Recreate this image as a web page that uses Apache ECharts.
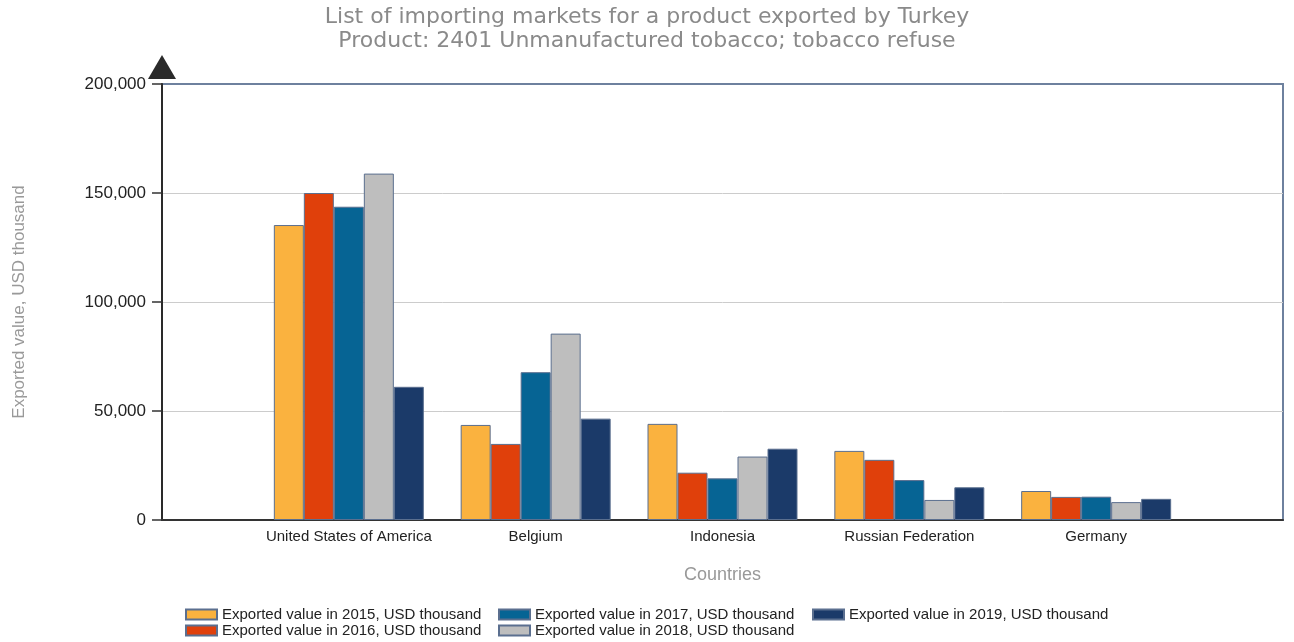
<!DOCTYPE html>
<html>
<head>
<meta charset="utf-8">
<script src="https://cdn.jsdelivr.net/npm/echarts@6/dist/echarts.min.js"></script>
<style>
html,body{margin:0;padding:0;background:#fff;}
#chart{width:1294px;height:642px;}
</style>
</head>
<body>
<div id="chart"></div>
<script>
// ---- data ----
const countries = ['United States of America', 'Belgium', 'Indonesia', 'Russian Federation', 'Germany'];
const v2015 = [135300, 43600, 44100, 31700, 13300];
const v2016 = [150000, 34900, 21700, 27600, 10600];
const v2017 = [143700, 67800, 19100, 18300, 10700];
const v2018 = [158900, 85500, 29100, 9200, 8200];
const v2019 = [61100, 46500, 32700, 15000, 9700];
const seriesNames = [
  'Exported value in 2015, USD thousand',
  'Exported value in 2016, USD thousand',
  'Exported value in 2017, USD thousand',
  'Exported value in 2018, USD thousand',
  'Exported value in 2019, USD thousand'
];
const yTicks = [0, 50000, 100000, 150000, 200000];
const colors = ['#FAB23F', '#E0400B', '#066494', '#BEBEBE', '#1B3A69'];

// pad with empty categories on both sides (as in the reference layout)
const cats = [''].concat(countries, ['']);
const pad = arr => ['-'].concat(arr, ['-']);
const values = [v2015, v2016, v2017, v2018, v2019];

const fmt = v => String(v).replace(/\B(?=(\d{3})+(?!\d))/g, ',');

const chart = echarts.init(document.getElementById('chart'), null, {renderer: 'canvas'});

const legendBase = {
  orient: 'vertical',
  top: 607,
  padding: 0,
  itemWidth: 31,
  itemHeight: 10,
  itemGap: 1,
  icon: 'rect',
  selectedMode: false,
  textStyle: {fontFamily: 'Liberation Sans, Arial, sans-serif', fontSize: 15, color: '#222'}
};

chart.setOption({
  animation: false,
  color: colors,
  title: {
    text: 'List of importing markets for a product exported by Turkey\nProduct: 2401 Unmanufactured tobacco; tobacco refuse',
    left: 'center',
    top: 5,
    padding: 0,
    textStyle: {fontFamily: 'DejaVu Sans, Verdana, sans-serif', fontSize: 22, fontWeight: 'normal', color: '#8a8a8a', lineHeight: 24}
  },
  legend: [
    Object.assign({}, legendBase, {left: 185, data: [seriesNames[0], seriesNames[1]]}),
    Object.assign({}, legendBase, {left: 498, data: [seriesNames[2], seriesNames[3]]}),
    Object.assign({}, legendBase, {left: 812, data: [seriesNames[4]]})
  ],
  grid: {
    left: 162, right: 11, top: 84, bottom: 122,
    outerBoundsMode: 'none',
    containLabel: false,
    show: true, borderColor: '#6E819E', borderWidth: 2, backgroundColor: 'transparent'
  },
  xAxis: {
    type: 'category',
    data: cats,
    boundaryGap: false,
    name: 'Countries',
    nameLocation: 'middle',
    nameGap: 46,
    nameTextStyle: {fontFamily: 'Liberation Sans, Arial, sans-serif', fontSize: 18, color: '#999'},
    axisLine: {show: true, lineStyle: {color: '#333', width: 2}},
    axisTick: {show: false},
    splitLine: {show: false},
    axisLabel: {margin: 9, fontFamily: 'Liberation Sans, Arial, sans-serif', fontSize: 15, color: '#222', interval: 0}
  },
  yAxis: {
    type: 'value',
    min: yTicks[0],
    max: yTicks[yTicks.length - 1],
    interval: yTicks[1] - yTicks[0],
    name: 'Exported value, USD thousand',
    nameLocation: 'middle',
    nameGap: 134,
    nameTextStyle: {fontFamily: 'Liberation Sans, Arial, sans-serif', fontSize: 17, color: '#999'},
    axisLine: {
      show: true,
      lineStyle: {color: '#2a2a2a', width: 2},
      symbol: ['none', 'triangle'],
      symbolSize: [28, 24],
      symbolOffset: [0, 17]
    },
    axisTick: {show: true, inside: false, length: 10, lineStyle: {color: '#333', width: 1.5}},
    axisLabel: {
      margin: 16,
      fontFamily: 'Liberation Sans, Arial, sans-serif',
      fontSize: 17,
      color: '#222',
      formatter: v => fmt(v)
    },
    splitLine: {show: true, lineStyle: {color: ['#cccccc', '#cccccc', '#cccccc', '#cccccc', '#6E819E'], width: 1}}
  },
  series: values.map((arr, i) => ({
    name: seriesNames[i],
    type: 'bar',
    data: pad(arr),
    barWidth: 30,
    barGap: '0%',
    itemStyle: {color: colors[i], borderColor: '#5B6F8F', borderWidth: 1}
  }))
});
</script>
</body>
</html>
